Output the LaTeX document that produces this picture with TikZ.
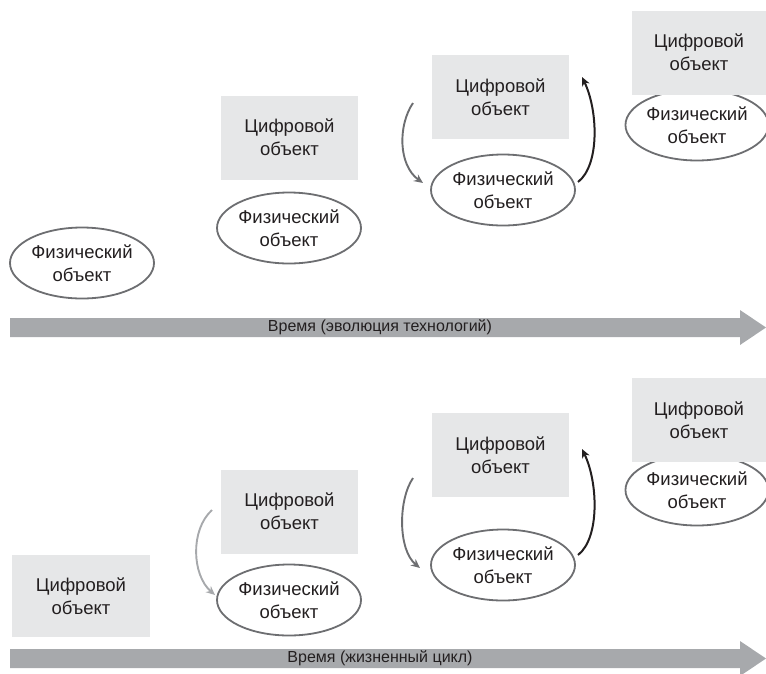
\documentclass[tikz,border=0pt]{standalone}
\usepackage{fontspec}
\setmainfont{Liberation Sans}
\usetikzlibrary{shapes.geometric,arrows.meta}
\definecolor{boxgray}{HTML}{E6E7E8}
\definecolor{bargray}{HTML}{A7A9AC}
\definecolor{edgegray}{HTML}{6D6E71}
\definecolor{darkink}{HTML}{231F20}
\begin{document}
\begin{tikzpicture}[x=1pt,y=-1pt,
  digital/.style={rectangle, fill=boxgray, minimum width=137pt, minimum height=84pt,
    inner sep=0pt, align=center, text=darkink, font=\fontsize{18.5}{23}\selectfont},
  physical/.style={ellipse, draw=edgegray, line width=1.8pt, fill=white,
    minimum width=144pt, minimum height=71pt, inner sep=0pt, align=center,
    text=darkink, font=\fontsize{18.5}{23}\selectfont},
  barlabel/.style={text=darkink, font=\fontsize{16}{19}\selectfont, inner sep=0pt},
  flowgray/.style={line width=1.9pt, draw=edgegray, -{Stealth[length=9pt,width=8pt]}},
  flowdark/.style={line width=2pt, draw=darkink, -{Stealth[length=9pt,width=8pt]}},
  flowlight/.style={line width=1.9pt, draw=bargray, -{Stealth[length=9pt,width=8pt]}}
]
\useasboundingbox (0,0) rectangle (766,673);

% ---------- upper row: evolution of technology ----------
\node[physical] (p1) at (82,263) {Физический\\объект};

\node[digital] (d2) at (289.5,137.5) {Цифровой\\объект};
\node[physical] (p2) at (289,228) {Физический\\объект};

\node[digital] (d3) at (500.5,97) {Цифровой\\объект};
\node[physical] (p3) at (503,190) {Физический\\объект};

\node[physical, minimum width=134pt] (p4) at (697,125) {Физический\\объект};
\node[digital, minimum width=134pt] (d4) at (699,52.5) {Цифровой\\объект};

\coordinate (a3s) at (413,103);
\coordinate (a3e) at (423,183);
\coordinate (b3s) at (578,182);
\coordinate (b3e) at (582,77);
\draw[flowgray] (a3s) .. controls (398,125) and (398,165) .. (a3e);
\draw[flowdark] (b3s) .. controls (600,165) and (598,110) .. (b3e);

\fill[bargray] (10,318) -- (740,318) -- (740,310) -- (766,327.5) -- (740,345)
  -- (740,337) -- (10,337) -- cycle;
\node[barlabel] (t1) at (380,327.5) {Время (эволюция технологий)};

% ---------- lower row: life cycle ----------
\node[digital, minimum width=138pt, minimum height=82pt] (d1b) at (81,596) {Цифровой\\объект};

\node[digital] (d2b) at (289.5,511.5) {Цифровой\\объект};
\node[physical] (p2b) at (289,600) {Физический\\объект};

\node[digital] (d3b) at (500.5,455) {Цифровой\\объект};
\node[physical] (p3b) at (503,565) {Физический\\объект};

\node[physical, minimum width=134pt] (p4b) at (697,490) {Физический\\объект};
\node[digital, minimum width=134pt] (d4b) at (699,420) {Цифровой\\объект};

\coordinate (c2s) at (212,510);
\coordinate (c2e) at (215,595);
\draw[flowlight] (c2s) .. controls (190,530) and (192,575) .. (c2e);

\coordinate (a3bs) at (413,478);
\coordinate (a3be) at (420,568);
\coordinate (b3bs) at (578,555);
\coordinate (b3be) at (582,449);
\draw[flowgray] (a3bs) .. controls (398,500) and (398,550) .. (a3be);
\draw[flowdark] (b3bs) .. controls (600,538) and (598,482) .. (b3be);

\fill[bargray] (10,649) -- (740,649) -- (740,641) -- (766,658.5) -- (740,676)
  -- (740,668) -- (10,668) -- cycle;
\node[barlabel] (t2) at (380,658.5) {Время (жизненный цикл)};
\end{tikzpicture}
\end{document}
